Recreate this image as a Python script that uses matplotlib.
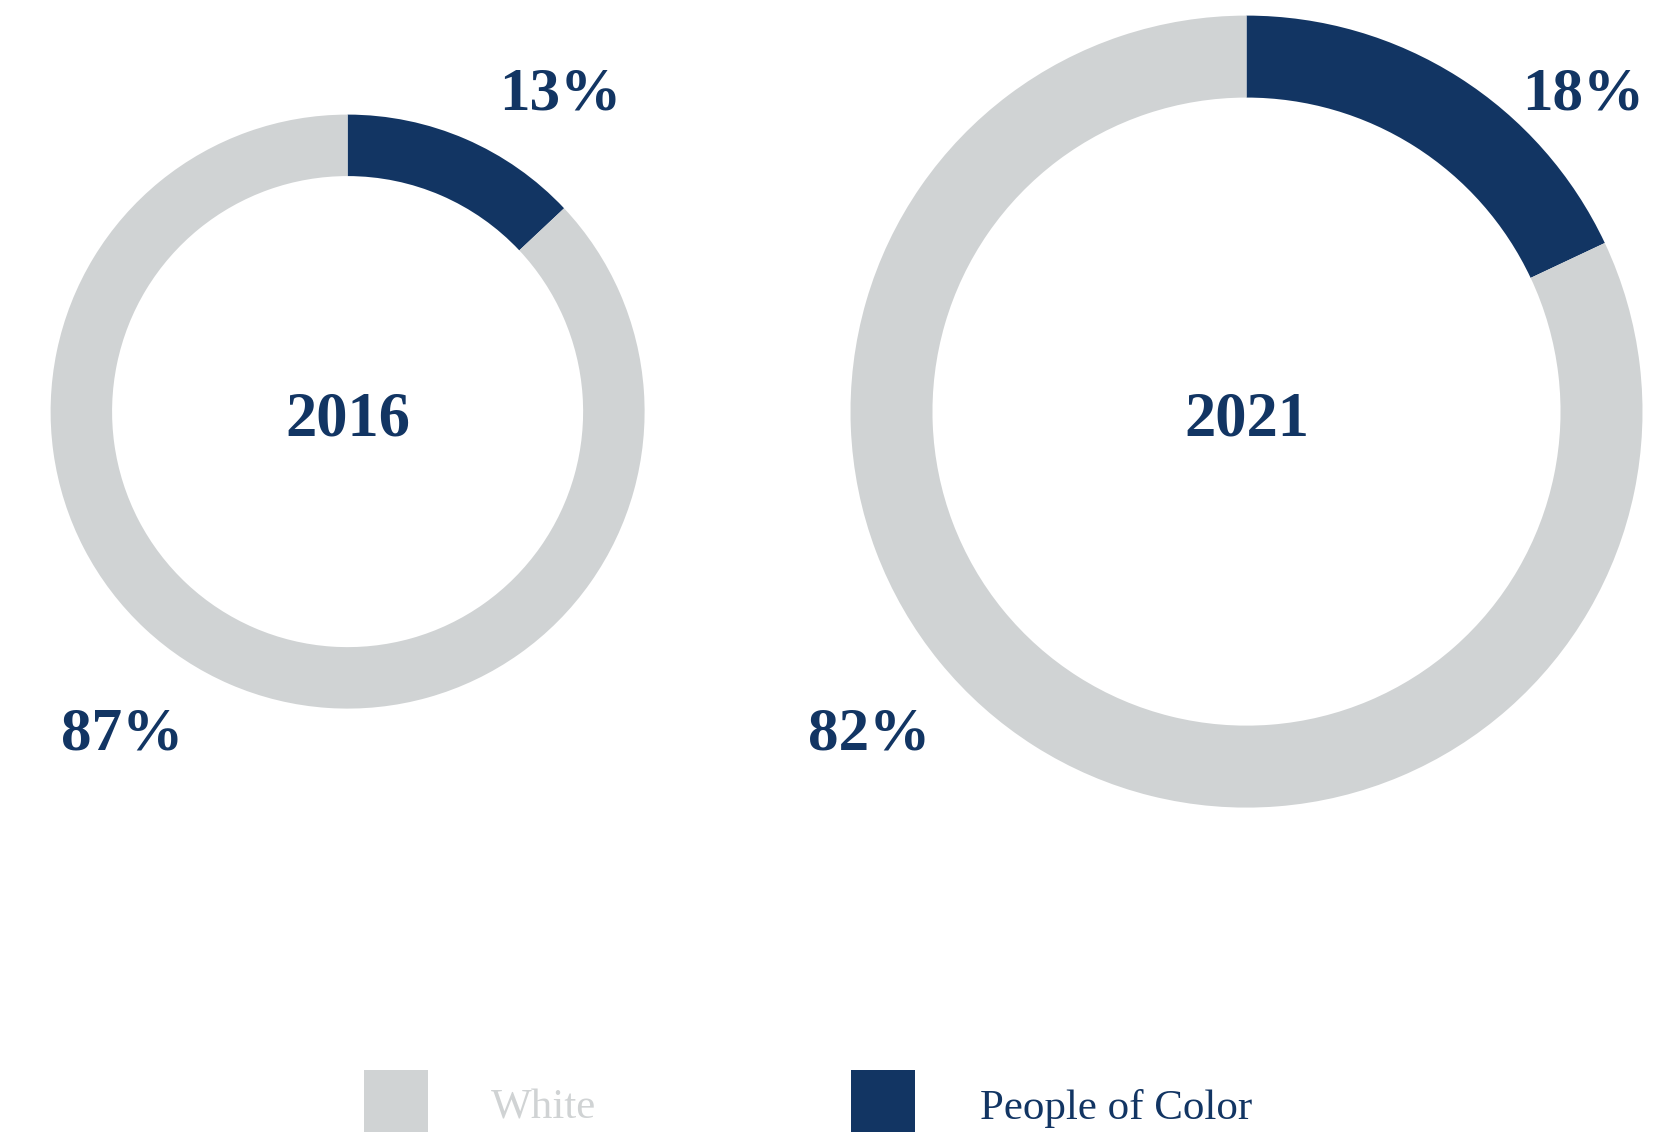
import matplotlib.pyplot as plt
from matplotlib.patches import Rectangle

years = ['2016', '2021']
white = [87, 82]
poc = [13, 18]
groups = ['White', 'People of Color']
colors = ['#d0d3d4', '#123563']

plt.rcParams['font.family'] = ['Liberation Serif', 'DejaVu Serif']

W, H = 1672, 1132
fig = plt.figure(figsize=(W / 100, H / 100), dpi=100)
ax = fig.add_axes([0, 0, 1, 1])

# layout of each donut (pixels, y from the top)
centers = [(347.6, 411.6), (1246.5, 411.6)]
radii = [297, 396]
hole = 0.207
poc_lab = [(560, 95), (1583, 95)]
white_lab = [(122, 735), (869, 735)]

for i in range(len(years)):
    cx, cy = centers[i]
    ax.pie([poc[i], white[i]], colors=[colors[1], colors[0]],
           center=(cx, H - cy), radius=radii[i], startangle=90,
           counterclock=False,
           wedgeprops=dict(width=radii[i] * hole, linewidth=0))
    ax.text(cx, H - cy - 9, years[i], ha='center', va='center',
            fontsize=45, fontweight='bold', color=colors[1])
    x, y = poc_lab[i]
    ax.text(x, H - y, f'{poc[i]}%', ha='center', va='center',
            fontsize=44, fontweight='bold', color=colors[1])
    x, y = white_lab[i]
    ax.text(x, H - y, f'{white[i]}%', ha='center', va='center',
            fontsize=44, fontweight='bold', color=colors[1])

ax.set_xlim(0, W)
ax.set_ylim(0, H)
ax.set_aspect('equal')
ax.axis('off')

# legend
sq_x = [363.6, 851]
txt_x = [491, 980]
for i, g in enumerate(groups):
    ax.add_patch(Rectangle((sq_x[i], 0), 64, H - 1070, color=colors[i], lw=0))
    ax.text(txt_x[i], H - 1108, g, ha='left', va='center',
            fontsize=31, color=colors[i])

fig.savefig('out.png', dpi=100)
